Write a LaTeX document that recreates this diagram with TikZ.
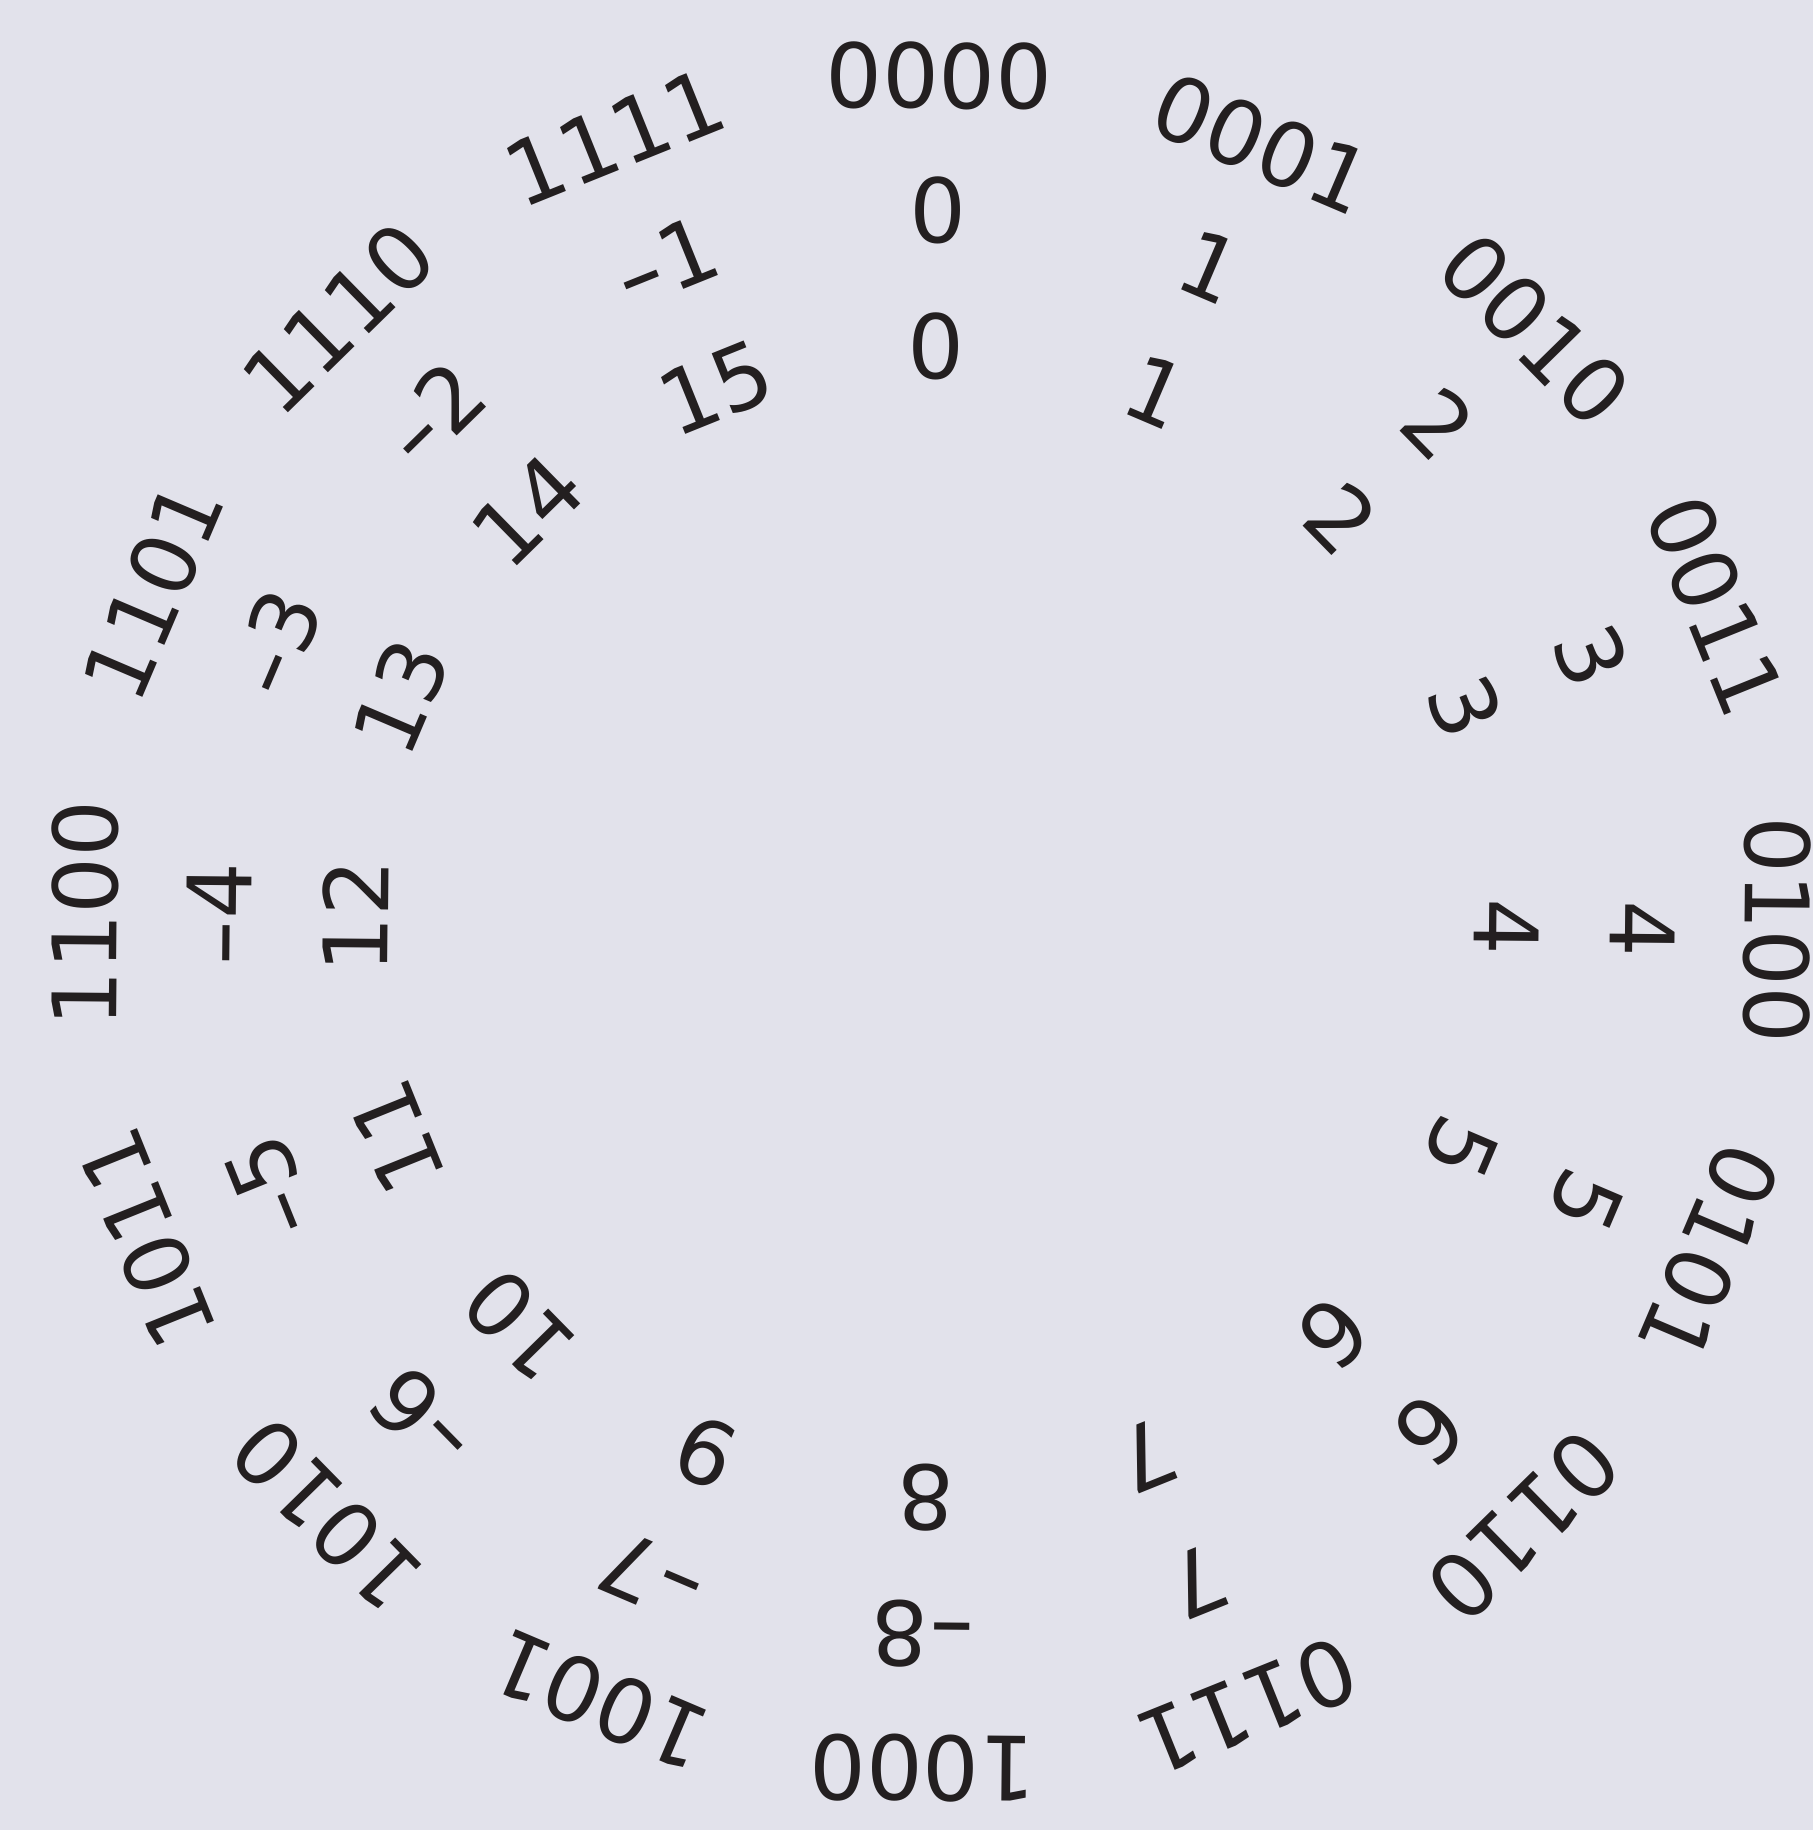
\documentclass[tikz,border=0pt]{standalone}
\usepackage{fontspec}
\newfontfamily\digitfont{DejaVu Sans}
\definecolor{bgcol}{RGB}{226,226,235}
\definecolor{ink}{RGB}{35,31,32}
\newcommand\mns{\scalebox{1.5}[1]{-}}
\begin{document}
\begin{tikzpicture}[lbl/.style={font=\digitfont\fontsize{25.3}{30}\selectfont,text=ink,inner sep=0pt}]
\fill[bgcol] (-9.31,-9.08) rectangle (8.82,9.22);\useasboundingbox (-9.31,-9.08) rectangle (8.82,9.22);
% outer ring: bits, middle ring: signed, inner ring: unsigned
\foreach \k/\bin/\sgn in {0/0000/0,1/0001/1,2/0010/2,3/0011/3,4/0100/4,5/0101/5,6/0110/6,7/0111/7,
  8/1000/\mns8,9/1001/\mns7,10/1010/\mns6,11/1011/\mns5,12/1100/\mns4,13/1101/\mns3,14/1110/\mns2,15/1111/\mns1}{
\pgfmathsetmacro\ang{89.45-22.5*\k}
\node[lbl,rotate=\ang-90] (bin\k) at (\ang:8.46) {\bin};
\node[lbl,rotate=\ang-90] (sgn\k) at (\ang:7.12) {\sgn};
\node[lbl,rotate=\ang-90] (uns\k) at (\ang:5.76) {\k};}
\end{tikzpicture}
\end{document}
